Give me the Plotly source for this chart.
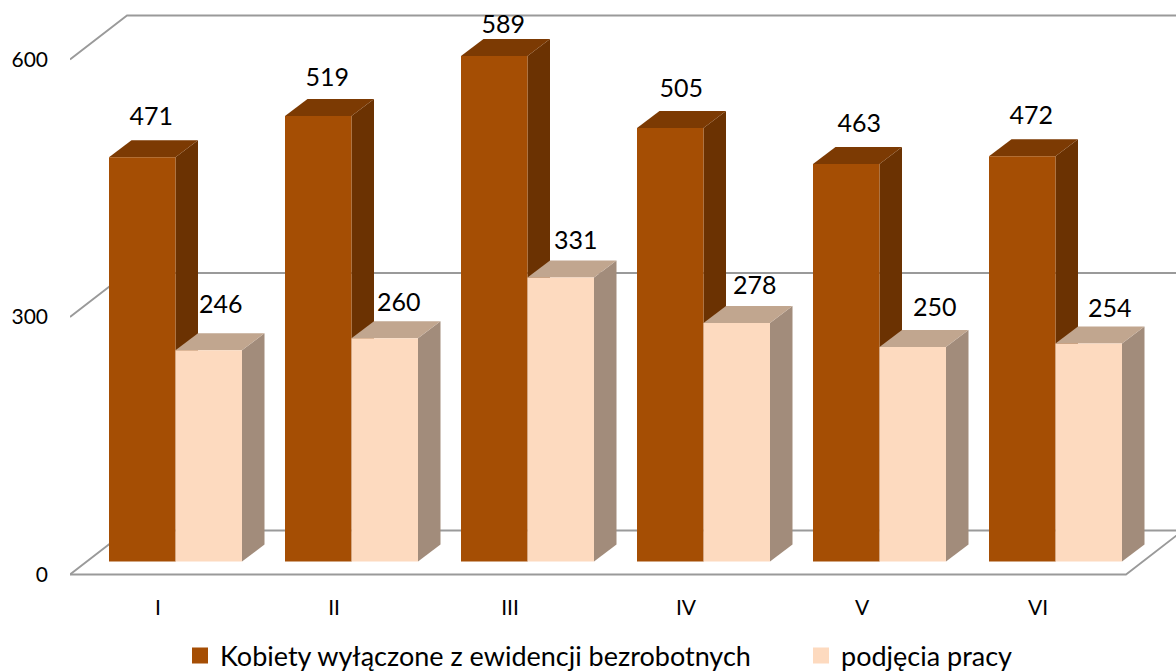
import plotly.graph_objects as go

months = ["I", "II", "III", "IV", "V", "VI"]
kobiety = [471, 519, 589, 505, 463, 472]
podjecia = [246, 260, 331, 278, 250, 254]
y_ticks = [0, 300, 600]
series_names = ["Kobiety wyłączone z ewidencji bezrobotnych", "podjęcia pracy"]

# label nudges in screen pixels (dx, dy above the bar top)
kobiety_nudge = [(9, 38), (9, 36), (9, 29), (11, 37), (13, 38), (9, 39)]
podjecia_nudge = [(12, 44), (14, 34), (15, 35), (18, 35), (22, 37), (21, 33)]

PX_X = 176.0       # pixels per category
PX_Y = 515 / 600   # pixels per value unit
L, W, H = 70, 1176, 672
BOTTOM = 578
AXIS0 = 574.5

def dx(px): return px / PX_X
def dy(px): return px / PX_Y

x_min, x_max = -0.5, (W - L) / PX_X - 0.5
y_min, y_max = (AXIS0 - BOTTOM) / PX_Y, AXIS0 / PX_Y

lift = dy(13)            # bars stand inside the floor
shift = dx(17.5)         # group centre vs. tick
bar_w = dx(66.5)
side_x, side_y = dx(22.5), dy(17)
wall_x, wall_y = dx(57), dy(44)

DARK, DARK_TOP, DARK_SIDE = "#A54E04", "#7C3A03", "#6B3202"
LIGHT, LIGHT_TOP, LIGHT_SIDE = "#FDDABF", "#C1A68F", "#A28C7B"
GRID = "#9A9A9A"

def poly(points, color):
    path = "M" + " L".join(f"{px},{py}" for px, py in points) + " Z"
    return dict(type="path", path=path, xref="x", yref="y", layer="below",
                fillcolor=color, line=dict(width=0))

def line(points):
    path = "M" + " L".join(f"{px},{py}" for px, py in points)
    return dict(type="path", path=path, xref="x", yref="y", layer="below",
                line=dict(color=GRID, width=1.8))

shapes = []
for t in y_ticks:
    shapes.append(line([(x_min, t), (x_min + wall_x, t + wall_y), (x_max, t + wall_y)]))
shapes.append(line([(x_min, 0), (5.5, 0), (5.5 + wall_x, wall_y)]))

xs = list(range(len(months)))
for values, left, top_c, side_c in [(kobiety, -bar_w, DARK_TOP, DARK_SIDE),
                                    (podjecia, 0.0, LIGHT_TOP, LIGHT_SIDE)]:
    for i, v in zip(xs, values):
        x0 = i + shift + left
        x1 = x0 + bar_w
        top = v + lift
        shapes.append(poly([(x1, lift), (x1 + side_x, lift + side_y),
                            (x1 + side_x, top + side_y), (x1, top)], side_c))
        shapes.append(poly([(x0, top), (x0 + side_x, top + side_y),
                            (x1 + side_x, top + side_y), (x1, top)], top_c))

fig = go.Figure()
bar_x = [i + shift for i in xs]
fig.add_bar(x=bar_x, y=kobiety, base=lift, offset=-bar_w, width=bar_w,
            marker=dict(color=DARK, line=dict(width=0)), showlegend=False,
            legendgroup="a")
fig.add_bar(x=bar_x, y=podjecia, base=lift, offset=0, width=bar_w,
            marker=dict(color=LIGHT, line=dict(width=0)), showlegend=False,
            legendgroup="b")

# legend swatches
for name, color, grp, leg in [(series_names[0], DARK, "a", "legend"),
                              (series_names[1], LIGHT, "b", "legend2")]:
    fig.add_scatter(x=[None], y=[None], mode="markers", name=name, legendgroup=grp,
                    legend=leg, showlegend=True,
                    marker=dict(symbol="square", size=16, color=color))

# data labels
lx, ly, lt = [], [], []
for i, v, (nx, ny) in zip(xs, kobiety, kobiety_nudge):
    lx.append(i + shift - bar_w / 2 + dx(nx)); ly.append(v + lift + dy(ny)); lt.append(str(v))
for i, v, (nx, ny) in zip(xs, podjecia, podjecia_nudge):
    lx.append(i + shift + bar_w / 2 + dx(nx)); ly.append(v + lift + dy(ny)); lt.append(str(v))
fig.add_scatter(x=lx, y=ly, text=lt, mode="text", textposition="middle center",
                textfont=dict(family="Lato", size=25, color="#000000"),
                showlegend=False, cliponaxis=False, hoverinfo="skip")

def legend_at(px):
    return dict(orientation="h", x=(px - L) / (W - L), xanchor="left",
                y=(BOTTOM - 656) / BOTTOM, yanchor="middle",
                font=dict(family="Lato", size=27), itemclick=False,
                bgcolor="rgba(0,0,0,0)")

fig.update_layout(
    width=W, height=H, autosize=False,
    margin=dict(l=L, r=0, t=0, b=H - BOTTOM, pad=0, autoexpand=False),
    paper_bgcolor="white", plot_bgcolor="white",
    barmode="overlay", shapes=shapes,
    font=dict(family="Lato", color="#000000"),
    legend=legend_at(180),
    legend2=legend_at(801),
    xaxis=dict(range=[x_min, x_max], tickmode="array", tickvals=xs, ticktext=months,
               showgrid=False, zeroline=False, showline=False, ticks="",
               ticklabelstandoff=15, tickfont=dict(family="Lato", size=21)),
    yaxis=dict(range=[y_min, y_max], tickmode="array", tickvals=y_ticks,
               showgrid=False, zeroline=False, showline=False, ticks="",
               ticklabelstandoff=21, tickfont=dict(family="Lato", size=21)),
)
fig.write_html("out.html", config={"displayModeBar": False},
               post_script="document.body.style.margin='0';")
